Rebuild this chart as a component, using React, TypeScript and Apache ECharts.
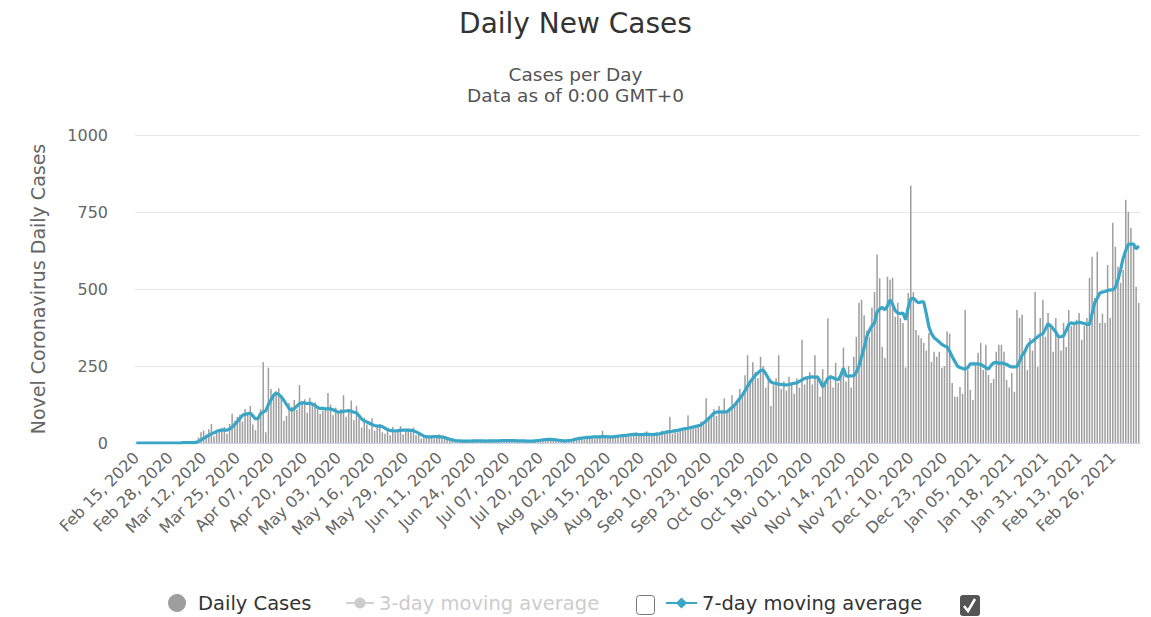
import React, { useEffect, useRef } from "react";
import * as echarts from "echarts";

// ---- Daily new cases, one array per month ----
const dFeb20 = [0, 0, 0, 0, 0, 0, 0, 0, 0, 0, 0, 0, 1, 0, 2];
const dMar20 = [1, 0, 3, 1, 2, 0, 2, 3, 4, 18, 35, 40, 28, 45, 62, 22, 40, 38, 48, 52, 30, 62, 95, 72, 85, 92, 70, 110, 100, 120, 60];
const dApr20 = [42, 88, 110, 262, 35, 245, 175, 160, 168, 178, 150, 72, 88, 130, 118, 140, 108, 188, 136, 142, 98, 147, 120, 132, 110, 95, 105, 105, 162, 125];
const dMay20 = [90, 115, 95, 110, 155, 85, 100, 138, 75, 120, 80, 50, 82, 60, 45, 80, 40, 55, 62, 35, 30, 48, 25, 52, 35, 40, 55, 28, 45, 42, 35];
const dJun20 = [50, 25, 30, 15, 22, 25, 18, 22, 15, 20, 28, 18, 15, 12, 10, 8, 6, 7, 5, 8, 4, 6, 9, 5, 7, 10, 6, 8, 5, 7];
const dJul20 = [6, 8, 5, 9, 10, 7, 6, 8, 11, 7, 5, 6, 9, 8, 4, 6, 7, 5, 8, 10, 12, 9, 11, 14, 8, 10, 13, 9, 7, 11, 12];
const dAug20 = [10, 14, 9, 16, 18, 12, 15, 20, 22, 14, 18, 25, 40, 20, 17, 22, 19, 24, 28, 18, 21, 26, 30, 22, 28, 35, 25, 30, 27, 38, 24];
const dSep20 = [30, 22, 35, 28, 40, 32, 38, 85, 30, 42, 35, 48, 40, 52, 90, 45, 55, 48, 62, 70, 58, 145, 80, 95, 110, 88, 120, 100, 145, 105];
const dOct20 = [115, 155, 130, 140, 175, 160, 220, 285, 200, 262, 230, 210, 280, 250, 180, 205, 120, 190, 210, 285, 175, 200, 170, 215, 190, 160, 210, 180, 335, 190, 215];
const dNov20 = [230, 190, 285, 210, 150, 240, 200, 405, 220, 180, 260, 195, 230, 310, 200, 250, 180, 280, 345, 455, 465, 415, 365, 345, 440, 490, 612, 535, 312, 276];
const dDec20 = [540, 530, 536, 410, 455, 405, 390, 245, 487, 835, 490, 367, 350, 340, 325, 300, 357, 263, 296, 280, 296, 244, 250, 362, 355, 195, 150, 150, 182, 160, 432];
const dJan21 = [237, 172, 140, 260, 292, 325, 237, 319, 221, 195, 208, 296, 319, 319, 296, 205, 180, 227, 166, 432, 406, 416, 296, 237, 341, 300, 490, 247, 406, 465, 345];
const dFeb21 = [422, 380, 296, 406, 341, 300, 390, 312, 432, 380, 390, 400, 422, 335, 380, 406, 536, 605, 471, 621, 390, 420, 390, 578, 406, 715, 637, 572];
const dMar21 = [520, 562, 790, 751, 699, 637, 507, 455];

// ---- 7-day moving average ----
const mFeb20 = [0, 0, 0, 0, 0, 0, 0, 0, 0, 0, 0, 0, 0, 0, 0];
const mMar20 = [0, 0, 0, 1, 1, 1, 1, 1, 2, 5, 10, 15, 20, 25, 30, 33, 38, 40, 42, 42, 42, 45, 52, 60, 70, 80, 90, 93, 95, 97, 88];
const mApr20 = [78, 80, 95, 100, 105, 125, 140, 155, 162, 158, 150, 138, 125, 112, 107, 112, 120, 128, 130, 130, 128, 130, 126, 122, 115, 112, 113, 110, 112, 110];
const mMay20 = [108, 104, 100, 101, 103, 104, 105, 103, 100, 98, 88, 78, 72, 68, 64, 60, 57, 55, 55, 53, 48, 44, 40, 40, 39, 40, 41, 42, 42, 42, 41];
const mJun20 = [40, 36, 32, 27, 23, 20, 20, 20, 21, 21, 20, 20, 18, 15, 12, 10, 8, 7, 7, 6, 6, 6, 6, 7, 7, 7, 7, 7, 6, 7];
const mJul20 = [7, 7, 7, 7, 8, 8, 8, 8, 8, 8, 7, 7, 7, 7, 6, 6, 6, 7, 8, 9, 10, 11, 12, 12, 11, 10, 9, 8, 7, 7, 8];
const mAug20 = [9, 11, 13, 15, 16, 17, 18, 18, 19, 20, 20, 20, 21, 21, 20, 20, 20, 21, 22, 23, 24, 25, 26, 27, 28, 28, 27, 27, 28, 29, 28];
const mSep20 = [27, 28, 29, 30, 32, 34, 36, 37, 38, 40, 41, 43, 45, 47, 48, 50, 52, 54, 56, 58, 65, 72, 80, 88, 97, 100, 101, 101, 101, 101];
const mOct20 = [108, 115, 123, 134, 145, 156, 170, 185, 198, 210, 220, 228, 235, 237, 225, 210, 198, 195, 193, 191, 190, 189, 189, 190, 192, 194, 195, 200, 205, 210, 212];
const mNov20 = [214, 215, 213, 215, 200, 182, 195, 210, 215, 212, 208, 205, 220, 243, 218, 217, 218, 218, 230, 250, 280, 310, 345, 365, 380, 390, 425, 435, 440, 432];
const mDec20 = [445, 465, 450, 430, 422, 420, 422, 400, 440, 468, 470, 462, 455, 458, 458, 420, 377, 355, 342, 335, 328, 320, 315, 312, 298, 280, 265, 250, 245, 242, 240];
const mJan21 = [245, 257, 257, 257, 257, 255, 250, 245, 240, 252, 260, 262, 258, 260, 258, 255, 250, 247, 247, 248, 265, 285, 296, 315, 325, 330, 338, 345, 351, 355, 370];
const mFeb21 = [387, 380, 371, 360, 345, 345, 348, 365, 385, 390, 388, 390, 392, 390, 388, 385, 385, 420, 455, 470, 487, 490, 492, 495, 497, 497, 505, 530];
const mMar21 = [562, 600, 625, 645, 646, 646, 630, 640];

const dailyCases = [
  ...dFeb20, ...dMar20, ...dApr20, ...dMay20, ...dJun20, ...dJul20, ...dAug20,
  ...dSep20, ...dOct20, ...dNov20, ...dDec20, ...dJan21, ...dFeb21, ...dMar21,
];
const avg7 = [
  ...mFeb20, ...mMar20, ...mApr20, ...mMay20, ...mJun20, ...mJul20, ...mAug20,
  ...mSep20, ...mOct20, ...mNov20, ...mDec20, ...mJan21, ...mFeb21, ...mMar21,
];
const avg3: number[] = [];

const yTicks = [0, 250, 500, 750, 1000];
const MONTHS = ["Jan", "Feb", "Mar", "Apr", "May", "Jun", "Jul", "Aug", "Sep", "Oct", "Nov", "Dec"];
const START = { y: 2020, m: 1, d: 15 }; // Feb 15, 2020

const categories: string[] = dailyCases.map((_, i) => {
  const dt = new Date(Date.UTC(START.y, START.m, START.d + i));
  const dd = String(dt.getUTCDate()).padStart(2, "0");
  return `${MONTHS[dt.getUTCMonth()]} ${dd}, ${dt.getUTCFullYear()}`;
});

const FONT = "'DejaVu Sans', Verdana, sans-serif";

export default function App() {
  const ref = useRef<HTMLDivElement>(null);
  useEffect(() => {
    if (!ref.current) return;
    const chart = echarts.init(ref.current, undefined, { renderer: "svg" });
    const legendBase = {
      top: 588,
      itemHeight: 14,
      inactiveColor: "#cccccc",
      selected: { "3-day moving average": false },
    };
    chart.setOption({
      animation: false,
      backgroundColor: "#ffffff",
      textStyle: { fontFamily: FONT },
      title: [
        {
          text: "Daily New Cases",
          left: "center",
          top: 4,
          textStyle: { fontSize: 28, fontWeight: "normal", color: "#333333", fontFamily: FONT },
        },
        {
          text: "Cases per Day\nData as of 0:00 GMT+0",
          left: "center",
          top: 59,
          textStyle: { fontSize: 18.5, lineHeight: 21, fontWeight: "normal", color: "#555555", fontFamily: FONT },
        },
      ],
      legend: [
        {
          ...legendBase,
          left: 163,
          itemWidth: 18,
          itemHeight: 18,
          data: [{ name: "Daily Cases", icon: "circle" }],
          textStyle: { fontSize: 19.5, color: "#333333", fontFamily: FONT, padding: [0, 0, 0, 7] },
        },
        {
          ...legendBase,
          left: 340,
          itemWidth: 28,
          data: ["3-day moving average"],
          textStyle: { fontSize: 19.5, color: "#333333", fontFamily: FONT },
        },
        {
          ...legendBase,
          left: 660,
          itemWidth: 31,
          data: ["7-day moving average"],
          textStyle: { fontSize: 19.5, color: "#333333", fontFamily: FONT },
        },
      ],
      grid: { left: 135, right: 11, top: 135, bottom: 174, containLabel: false },
      xAxis: {
        type: "category",
        data: categories,
        boundaryGap: true,
        axisLine: { lineStyle: { color: "#ccd6eb" } },
        axisTick: { show: false },
        axisLabel: {
          interval: 12,
          rotate: 45,
          fontSize: 16,
          color: "#666666",
          margin: 12,
          fontFamily: FONT,
        },
      },
      yAxis: {
        type: "value",
        min: yTicks[0],
        max: yTicks[yTicks.length - 1],
        interval: 250,
        name: "Novel Coronavirus Daily Cases",
        nameLocation: "middle",
        nameGap: 88,
        nameTextStyle: { fontSize: 19, color: "#666666", fontFamily: FONT },
        axisLine: { show: false },
        axisTick: { show: false },
        axisLabel: {
          fontSize: 16,
          color: "#666666",
          margin: 27,
          fontFamily: FONT,
          formatter: (v: number) => String(v),
        },
        splitLine: { lineStyle: { color: "#e6e6e6" } },
      },
      series: [
        {
          name: "Daily Cases",
          type: "bar",
          data: dailyCases,
          barWidth: "58%",
          itemStyle: { color: "#9e9e9e" },
        },
        {
          name: "3-day moving average",
          type: "line",
          data: avg3,
          symbol: "circle",
          showSymbol: false,
          itemStyle: { color: "#cccccc" },
          lineStyle: { width: 3, color: "#cccccc" },
        },
        {
          name: "7-day moving average",
          type: "line",
          data: avg7,
          symbol: "diamond",
          symbolSize: 10,
          showSymbol: false,
          itemStyle: { color: "#39a6c8" },
          lineStyle: { width: 3.2, color: "#39a6c8" },
          z: 5,
        },
      ],
      graphic: [
        {
          type: "rect",
          left: 636,
          top: 595,
          shape: { width: 18, height: 19, r: 3 },
          style: { fill: "#ffffff", stroke: "#777777", lineWidth: 1 },
        },
        {
          type: "rect",
          left: 960,
          top: 595,
          shape: { width: 19, height: 20, r: 2 },
          style: { fill: "#555555", stroke: "#555555", lineWidth: 1 },
        },
        {
          type: "polyline",
          shape: { points: [[964, 606], [968, 611], [975, 599]] },
          style: { stroke: "#ffffff", lineWidth: 2.5, fill: "none" },
          z: 10,
        },
      ],
    });
    return () => chart.dispose();
  }, []);
  return (
    <div
      ref={ref}
      style={{ position: "fixed", left: 0, top: 0, width: 1151, height: 617 }}
    />
  );
}
